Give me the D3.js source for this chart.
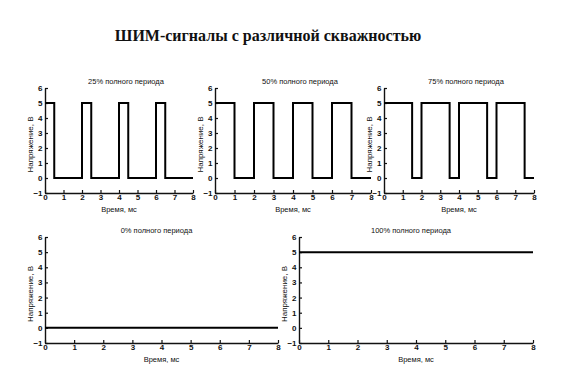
<!DOCTYPE html>
<html>
<head>
<meta charset="utf-8">
<script src="https://cdn.jsdelivr.net/npm/d3@7"></script>
<style>
  body { margin: 0; background: #fff; }
  svg text { font-family: "Liberation Sans", Arial, sans-serif; fill: #111; }
  .tick text { font-size: 8px; font-weight: bold; }
</style>
</head>
<body>
<div id="chart"></div>
<script>
// Data: PWM signals, step-after series (time in ms, voltage in V)
const time25 = [0, 0.5, 2, 2.5, 4, 4.5, 6, 6.5, 8];
const volt25 = [5, 0, 5, 0, 5, 0, 5, 0, 0];
const time50 = [0, 1, 2, 3, 4, 5, 6, 7, 8];
const volt50 = [5, 0, 5, 0, 5, 0, 5, 0, 0];
const time75 = [0, 1.5, 2, 3.5, 4, 5.5, 6, 7.5, 8];
const volt75 = [5, 0, 5, 0, 5, 0, 5, 0, 0];
const time0 = [0, 8];
const volt0 = [0, 0];
const time100 = [0, 8];
const volt100 = [5, 5];

const titles = ['25% полного периода', '50% полного периода', '75% полного периода',
  '0% полного периода', '100% полного периода'];
const xTicks = [0, 1, 2, 3, 4, 5, 6, 7, 8];
const yTicks = [-1, 0, 1, 2, 3, 4, 5, 6];
const xLabel = 'Время, мс';
const yLabel = 'Напряжение, В';
const mainTitle = 'ШИМ-сигналы с различной скважностью';

const w = 562;
const h = 372;

// panel boxes (pixel layout)
const panels = [
  { t: time25, v: volt25, x0: 45, x1: 193, yb: 193, yt: 88 },
  { t: time50, v: volt50, x0: 215, x1: 371, yb: 193, yt: 88 },
  { t: time75, v: volt75, x0: 384, x1: 534, yb: 193, yt: 88 },
  { t: time0, v: volt0, x0: 45, x1: 278, yb: 343, yt: 237 },
  { t: time100, v: volt100, x0: 299, x1: 533, yb: 343, yt: 237 }
];

const svg = d3.select('#chart')
  .append('svg')
  .attr('width', w)
  .attr('height', h);

svg.append('text')
  .attr('x', 268)
  .attr('y', 41)
  .attr('text-anchor', 'middle')
  .style('font-family', '"Liberation Serif", "Times New Roman", serif')
  .style('font-weight', 'bold')
  .style('font-size', '16px')
  .text(mainTitle);

panels.forEach((p, i) => {
  const xScale = d3.scaleLinear().domain([0, 8]).range([p.x0, p.x1]);
  const yScale = d3.scaleLinear().domain([-1, 6]).range([p.yb, p.yt]);

  const g = svg.append('g');

  // x axis
  const xAxis = d3.axisBottom(xScale)
    .tickValues(xTicks)
    .tickFormat(d3.format('d'))
    .tickSizeInner(-3)
    .tickSizeOuter(0)
    .tickPadding(1.5);

  g.append('g')
    .attr('transform', `translate(0, ${p.yb})`)
    .call(xAxis);

  // y axis
  const yAxis = d3.axisLeft(yScale)
    .tickValues(yTicks)
    .tickFormat(d3.format('d'))
    .tickSizeInner(-3)
    .tickSizeOuter(0)
    .tickPadding(2.5);

  g.append('g')
    .attr('transform', `translate(${p.x0}, 0)`)
    .call(yAxis);

  g.selectAll('.domain').attr('stroke', '#111').attr('stroke-width', 1.4);
  g.selectAll('.tick line').attr('stroke', '#111').attr('stroke-width', 1.2);

  // signal
  const line = d3.line()
    .curve(d3.curveStepAfter)
    .x((d, j) => xScale(p.t[j]))
    .y(d => yScale(d));

  g.append('path')
    .datum(p.v)
    .attr('fill', 'none')
    .attr('stroke', '#000')
    .attr('stroke-width', 2)
    .attr('d', line);

  // labels
  g.append('text')
    .attr('x', (p.x0 + p.x1) / 2 + (i < 3 ? 7 : -5))
    .attr('y', p.yt - 4)
    .attr('text-anchor', 'middle')
    .style('font-size', '7.5px')
    .text(titles[i]);

  g.append('text')
    .attr('x', (p.x0 + p.x1) / 2)
    .attr('y', p.yb + 18.5)
    .attr('text-anchor', 'middle')
    .style('font-size', '7.5px')
    .text(xLabel);

  g.append('text')
    .attr('transform', `translate(${p.x0 - 12}, ${(p.yb + p.yt) / 2 + 4}) rotate(-90)`)
    .attr('text-anchor', 'middle')
    .style('font-size', '8px')
    .text(yLabel);
});
</script>
</body>
</html>
